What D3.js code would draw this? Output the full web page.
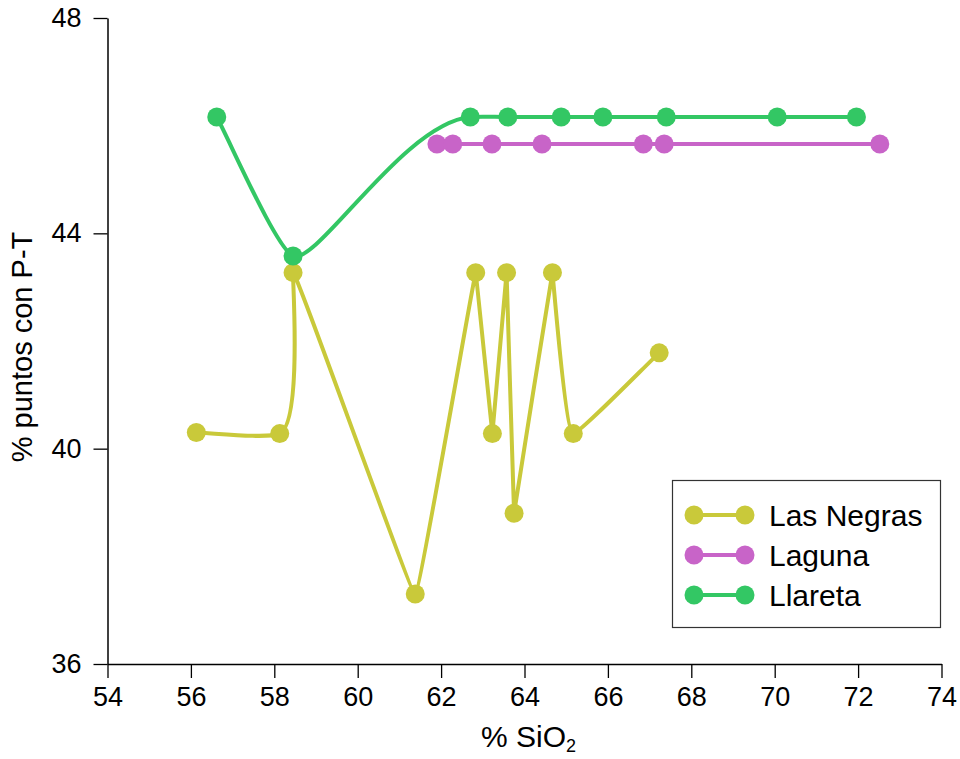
<!DOCTYPE html>
<html><head><meta charset="utf-8">
<script src="https://cdn.jsdelivr.net/npm/d3@7"></script>
<style>body{margin:0;background:#fff;} text{font-family:"Liberation Sans",Arial,sans-serif;}</style>
</head><body>
<svg id="c" width="960" height="759"></svg>
<script>
const seriesNames = ["Las Negras", "Laguna", "Llareta"];
const seriesColors = ["#C9C93A", "#C864C8", "#33C764"];
const lasNegrasX = [56.13, 58.13, 58.45, 61.38, 62.83, 63.23, 63.57, 63.75, 64.67, 65.17, 67.23];
const lasNegrasY = [40.30, 40.28, 43.27, 37.30, 43.27, 40.28, 43.27, 38.80, 43.27, 40.28, 41.78];
const lagunaX = [61.90, 62.28, 63.22, 64.42, 66.85, 67.35, 72.52];
const lagunaY = [45.66, 45.66, 45.66, 45.66, 45.66, 45.66, 45.66];
const llaretaX = [56.62, 58.45, 62.70, 63.60, 64.88, 65.88, 67.40, 70.06, 71.96];
const llaretaY = [46.16, 43.58, 46.16, 46.16, 46.16, 46.16, 46.16, 46.16, 46.16];
const xTicks = [54,56,58,60,62,64,66,68,70,72,74];
const yTicks = [36,40,44,48];

const series = [
  {name: seriesNames[0], color: seriesColors[0], pts: lasNegrasX.map((x,i)=>[x,lasNegrasY[i]])},
  {name: seriesNames[1], color: seriesColors[1], pts: lagunaX.map((x,i)=>[x,lagunaY[i]])},
  {name: seriesNames[2], color: seriesColors[2], pts: llaretaX.map((x,i)=>[x,llaretaY[i]])}
];

const svg = d3.select("#c");
const L = 107.5, R = 941.5, T = 18, B = 664;
const x = d3.scaleLinear().domain([54,74]).range([L,R]);
const y = d3.scaleLinear().domain([36,48]).range([B,T]);

// smooth path in screen space: chord-weighted tangents, shortened at sharp turns
function smoothPath(P){
  const n = P.length;
  const dist = (a,b)=>Math.hypot(b[0]-a[0], b[1]-a[1]);
  const unit = (a,b)=>{const d=dist(a,b)||1; return [(b[0]-a[0])/d,(b[1]-a[1])/d];};
  const M = P.map((p,i)=>{
    if(i===0) return unit(p,P[1]).map(v=>v*0.5);
    if(i===n-1) return unit(P[n-2],p).map(v=>v*0.5);
    const d0 = dist(P[i-1],p), d1 = dist(p,P[i+1]);
    const u0 = unit(P[i-1],p), u1 = unit(p,P[i+1]);
    const w0 = d1/(d0+d1), w1 = d0/(d0+d1);
    const cos = u0[0]*u1[0]+u0[1]*u1[1];
    const g = Math.pow((1+cos)/2, 0.75);
    return [(u0[0]*w0+u1[0]*w1)*g, (u0[1]*w0+u1[1]*w1)*g];
  });
  const path = d3.path();
  path.moveTo(P[0][0],P[0][1]);
  for(let i=0;i<n-1;i++){
    const d = dist(P[i],P[i+1]);
    path.bezierCurveTo(P[i][0]+M[i][0]*d/3, P[i][1]+M[i][1]*d/3,
                       P[i+1][0]-M[i+1][0]*d/3, P[i+1][1]-M[i+1][1]*d/3,
                       P[i+1][0], P[i+1][1]);
  }
  return path.toString();
}

const g = svg.append("g");
series.forEach(s=>{
  g.append("path").attr("d", smoothPath(s.pts.map(d=>[x(d[0]),y(d[1])]))).attr("fill","none")
    .attr("stroke", s.color).attr("stroke-width", 4).attr("stroke-linejoin","round");
});
series.forEach(s=>{
  g.selectAll(null).data(s.pts).enter().append("circle")
    .attr("cx", d=>x(d[0])).attr("cy", d=>y(d[1])).attr("r", 9.5).attr("fill", s.color);
});

// axes
const xAxis = svg.append("g").attr("transform",`translate(0,${B})`)
  .call(d3.axisBottom(x).tickValues(xTicks).tickSize(14).tickSizeOuter(0).tickPadding(9));
const yAxis = svg.append("g").attr("transform",`translate(${L},0)`)
  .call(d3.axisLeft(y).tickValues(yTicks).tickSize(14).tickSizeOuter(0).tickPadding(12));
[xAxis,yAxis].forEach(a=>{
  a.select(".domain").attr("stroke","#000").attr("stroke-width",1.5);
  a.selectAll(".tick line").attr("stroke","#000").attr("stroke-width",1.3);
  a.selectAll("text").attr("font-size",27).attr("fill","#000").attr("font-family","Liberation Sans, Arial, sans-serif");
});

// titles
const xt = svg.append("text").attr("x", (L+R)/2 + 4).attr("y", 747).attr("text-anchor","middle")
  .attr("font-size",30).attr("fill","#000");
xt.append("tspan").text("% SiO");
xt.append("tspan").attr("font-size",18).attr("dy",5).text("2");

svg.append("text").attr("transform",`translate(32,347) rotate(-90)`)
  .attr("text-anchor","middle").attr("font-size",29).attr("fill","#000").text("% puntos con P-T");

// legend
const lg = svg.append("g");
lg.append("rect").attr("x",672.5).attr("y",480.5).attr("width",268).attr("height",147)
  .attr("fill","#fff").attr("stroke","#333").attr("stroke-width",1.2);
series.forEach((s,i)=>{
  const yy = 515 + i*40;
  lg.append("line").attr("x1",694).attr("x2",745).attr("y1",yy).attr("y2",yy)
    .attr("stroke",s.color).attr("stroke-width",4);
  lg.append("circle").attr("cx",694).attr("cy",yy).attr("r",9.5).attr("fill",s.color);
  lg.append("circle").attr("cx",745).attr("cy",yy).attr("r",9.5).attr("fill",s.color);
  lg.append("text").attr("x",769).attr("y",yy).attr("dy","0.36em").attr("font-size",30)
    .attr("fill","#000").text(s.name);
});
</script>
</body></html>
